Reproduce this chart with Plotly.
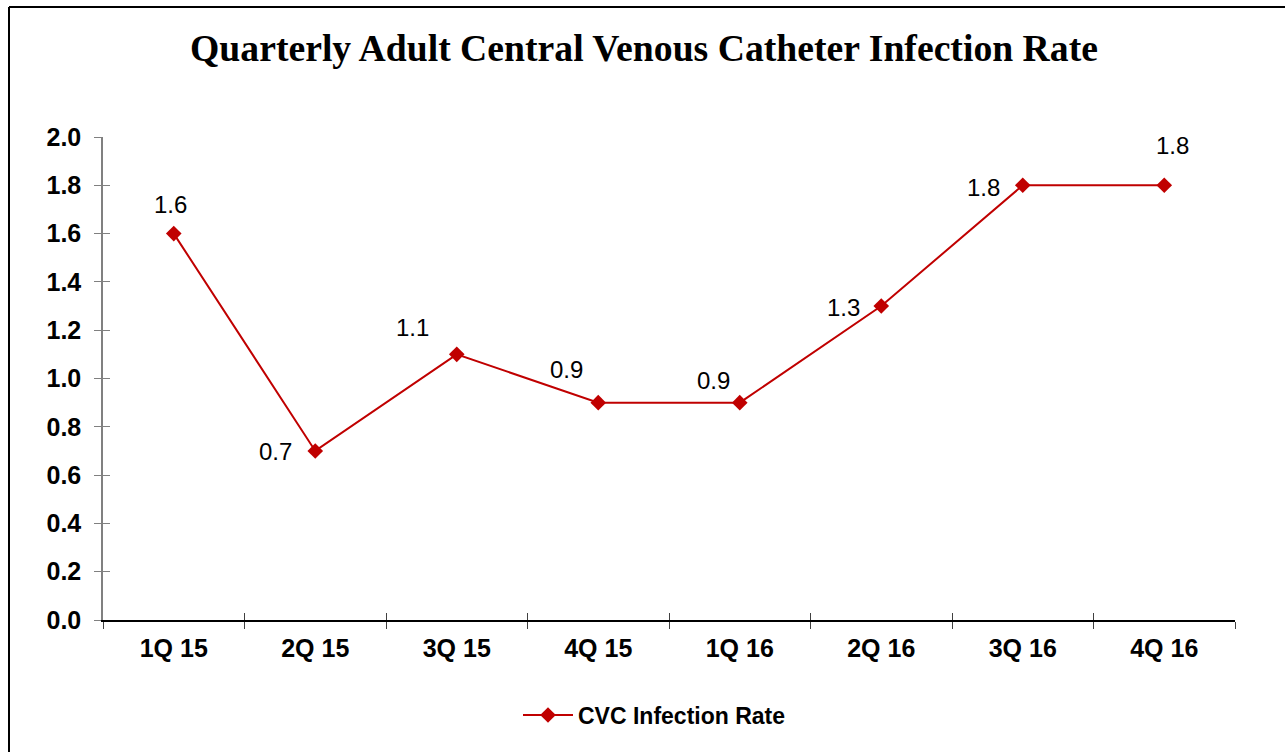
import plotly.graph_objects as go

categories = ["1Q 15", "2Q 15", "3Q 15", "4Q 15", "1Q 16", "2Q 16", "3Q 16", "4Q 16"]
cvc_rate = [1.6, 0.7, 1.1, 0.9, 0.9, 1.3, 1.8, 1.8]
y_ticks = [0.0, 0.2, 0.4, 0.6, 0.8, 1.0, 1.2, 1.4, 1.6, 1.8, 2.0]
series_name = "CVC Infection Rate"
title_text = "Quarterly Adult Central Venous Catheter Infection Rate"

# label placement offsets (pixels) — styling only
label_shift_x = [-3, -40, -44, -32, -26, -38, -39, 8]
label_shift_y = [29, -1, 27, 33, 22, -1, -2, 40]

RED = "#C00000"
W, H = 1285, 752
ML, MR, MT, MB = 103, 50, 137, 132
PW, PH = W - ML - MR, H - MT - MB

fig = go.Figure()
fig.add_trace(go.Scatter(
    x=categories, y=cvc_rate, mode="lines+markers", name=series_name,
    line=dict(color=RED, width=2),
    marker=dict(symbol="diamond", size=12, color=RED),
    hoverinfo="x+y",
))
# invisible trace to drive overlay axes (inside ticks)
fig.add_trace(go.Scatter(
    x=categories, y=cvc_rate, mode="markers", showlegend=False,
    marker=dict(opacity=0), xaxis="x2", yaxis="y2", hoverinfo="skip",
))

for i, (c, v) in enumerate(zip(categories, cvc_rate)):
    fig.add_annotation(
        x=c, y=v, text=f"{v:.1f}", showarrow=False,
        xshift=label_shift_x[i], yshift=label_shift_y[i],
        font=dict(family="Liberation Sans, Arial", size=24, color="#000000"),
    )

tick_font = dict(family="Liberation Sans, Arial", size=25, color="#000000", weight="bold")

fig.update_layout(
    width=W, height=H,
    margin=dict(l=ML, r=MR, t=MT, b=MB, autoexpand=False),
    paper_bgcolor="white", plot_bgcolor="white",
    title=dict(
        text=title_text, x=644 / W, xanchor="center", xref="container",
        y=1 - 48 / H, yanchor="middle", yref="container",
        font=dict(family="Liberation Serif, Times New Roman", size=37.7, color="#000000", weight="bold"),
    ),
    xaxis=dict(
        type="category", categoryorder="array", categoryarray=categories,
        range=[-0.5, len(categories) - 0.5], tickson="boundaries",
        ticks="outside", ticklen=7, tickwidth=1, tickcolor="#404040",
        showline=True, linecolor="#000000", linewidth=1.5,
        showgrid=False, zeroline=False, tickfont=tick_font, ticklabelstandoff=5,
        fixedrange=True,
    ),
    yaxis=dict(
        range=[0, 2.0], tickvals=y_ticks, ticktext=[f"{t:.1f}" for t in y_ticks],
        ticks="outside", ticklen=7, tickwidth=1, tickcolor="#808080",
        showline=True, linecolor="#808080", linewidth=1.5,
        showgrid=False, zeroline=False, tickfont=tick_font, ticklabelstandoff=8,
        fixedrange=True,
    ),
    xaxis2=dict(
        type="category", categoryorder="array", categoryarray=categories,
        range=[-0.5, len(categories) - 0.5], tickson="boundaries",
        overlaying="x", anchor="y",
        ticks="inside", ticklen=7, tickwidth=1, tickcolor="#404040",
        showticklabels=False, showline=False, showgrid=False, zeroline=False,
        fixedrange=True,
    ),
    yaxis2=dict(
        range=[0, 2.0], tickvals=y_ticks, overlaying="y", anchor="x",
        ticks="inside", ticklen=7, tickwidth=1, tickcolor="#808080",
        showticklabels=False, showline=False, showgrid=False, zeroline=False,
        fixedrange=True,
    ),
    legend=dict(
        orientation="h", x=(518 - ML) / PW, xanchor="left",
        y=(620 - 715) / PH, yanchor="middle", itemwidth=50,
        font=dict(family="Liberation Sans, Arial", size=23, color="#000000", weight="bold"),
        bgcolor="rgba(0,0,0,0)",
    ),
    showlegend=True,
)

# outer chart border (top and left visible; right/bottom fall outside the canvas)
bx = (9 - ML) / PW
by = (620 - 7) / PH
fig.add_shape(type="line", xref="paper", yref="paper", x0=bx, x1=bx, y0=by, y1=-2,
              line=dict(color="#000000", width=2))
fig.add_shape(type="line", xref="paper", yref="paper", x0=bx, x1=2, y0=by, y1=by,
              line=dict(color="#000000", width=2))

fig.write_html(
    "out.html",
    config={"displayModeBar": False},
    post_script="document.body.style.margin='0';document.body.style.overflow='hidden';",
)
